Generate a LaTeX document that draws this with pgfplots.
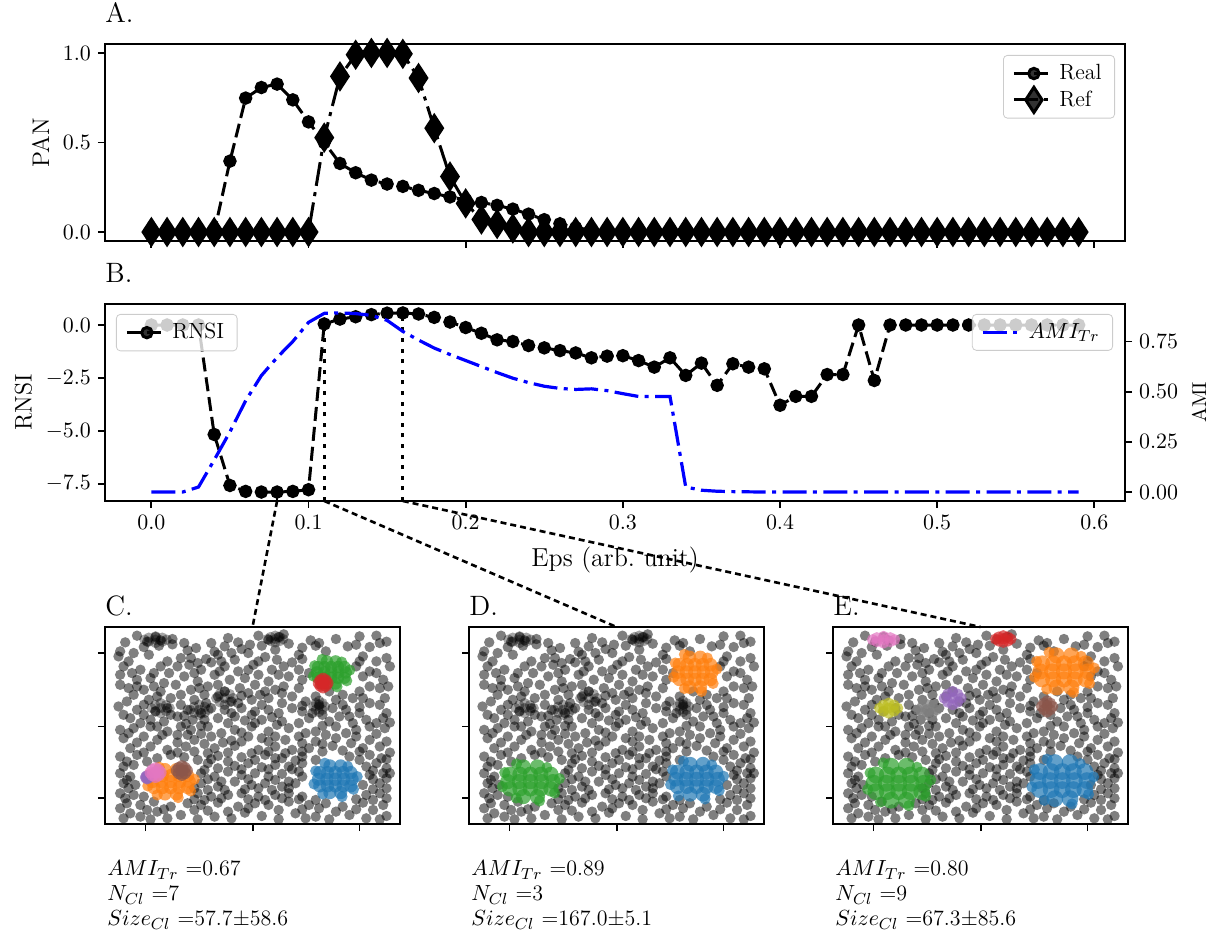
\documentclass[border=0pt]{standalone}
\usepackage{pgfplots}
\usepackage{pgfplotstable}
\pgfplotsset{compat=1.18}

\definecolor{tabblue}{HTML}{1F77B4}
\definecolor{taborange}{HTML}{FF7F0E}
\definecolor{tabgreen}{HTML}{2CA02C}
\definecolor{tabred}{HTML}{D62728}
\definecolor{tabpurple}{HTML}{9467BD}
\definecolor{tabbrown}{HTML}{8C564B}
\definecolor{tabpink}{HTML}{E377C2}
\definecolor{tabgray}{HTML}{7F7F7F}
\definecolor{tabolive}{HTML}{BCBD22}

\newcommand\tickfont{\fontsize{11}{13}\selectfont}
\newcommand\labfont{\fontsize{12}{14}\selectfont}
\newcommand\xlabfont{\fontsize{13}{15}\selectfont}
\newcommand\titfont{\fontsize{14}{16}\selectfont}
\newcommand\legfont{\fontsize{11}{13}\selectfont}
\newcommand\txtfont{\fontsize{11}{13}\selectfont}

% eps sweep: PAN of real and reference clustering, RNSI and AMI
\pgfplotstableread{
eps   real   ref    rnsi   ami
0.00  0.000  0.000  0.00   0.000
0.01  0.000  0.000  0.00   0.000
0.02  0.000  0.000  0.00   0.000
0.03  0.000  0.000  0.00   0.025
0.04  0.000  0.000  -5.17  0.160
0.05  0.396  0.000  -7.58  0.300
0.06  0.748  0.000  -7.86  0.455
0.07  0.807  0.000  -7.89  0.580
0.08  0.826  0.000  -7.89  0.670
0.09  0.738  0.000  -7.86  0.750
0.10  0.615  0.000  -7.78  0.845
0.11  0.500  0.527  0.05   0.890
0.12  0.383  0.869  0.28   0.892
0.13  0.331  0.990  0.39   0.889
0.14  0.290  1.000  0.49   0.880
0.15  0.268  1.000  0.56   0.855
0.16  0.255  0.995  0.57   0.800
0.17  0.233  0.860  0.52   0.757
0.18  0.215  0.580  0.36   0.717
0.19  0.196  0.310  0.14   0.685
0.20  0.180  0.160  -0.12  0.655
0.21  0.165  0.070  -0.39  0.625
0.22  0.149  0.045  -0.70  0.595
0.23  0.128  0.020  -0.78  0.567
0.24  0.100  0.000  -0.97  0.545
0.25  0.069  0.000  -1.08  0.527
0.26  0.046  0.000  -1.21  0.516
0.27  0.024  0.000  -1.32  0.511
0.28  0.012  0.000  -1.55  0.514
0.29  0.005  0.000  -1.47  0.505
0.30  0.000  0.000  -1.45  0.490
0.31  0.000  0.000  -1.68  0.476
0.32  0.000  0.000  -1.99  0.476
0.33  0.000  0.000  -1.55  0.476
0.34  0.000  0.000  -2.38  0.025
0.35  0.000  0.000  -1.80  0.009
0.36  0.000  0.000  -2.85  0.004
0.37  0.000  0.000  -1.83  0.002
0.38  0.000  0.000  -1.99  0.001
0.39  0.000  0.000  -2.07  0.000
0.40  0.000  0.000  -3.79  0.000
0.41  0.000  0.000  -3.37  0.000
0.42  0.000  0.000  -3.37  0.000
0.43  0.000  0.000  -2.34  0.000
0.44  0.000  0.000  -2.34  0.000
0.45  0.000  0.000  0.00   0.000
0.46  0.000  0.000  -2.62  0.000
0.47  0.000  0.000  0.00   0.000
0.48  0.000  0.000  0.00   0.000
0.49  0.000  0.000  0.00   0.000
0.50  0.000  0.000  0.00   0.000
0.51  0.000  0.000  0.00   0.000
0.52  0.000  0.000  0.00   0.000
0.53  0.000  0.000  0.00   0.000
0.54  0.000  0.000  0.00   0.000
0.55  0.000  0.000  0.00   0.000
0.56  0.000  0.000  0.00   0.000
0.57  0.000  0.000  0.00   0.000
0.58  0.000  0.000  0.00   0.000
0.59  0.000  0.000  0.00   0.000
}\curves

% background (noise) points of the 2-D test set, field coordinates
\pgfplotstableread[row sep=\\]{
x y\\
110 48\\ 165 52\\ 180 62\\ 250 70\\ 285 85\\ 380 55\\ 410 68\\ 470 48\\ 500 60\\ 530 52\\ 545 44\\ 625 62\\ 650 70\\ 700 58\\ 770 50\\ 820 48\\
75 68\\ 140 66\\ 215 58\\ 330 70\\ 445 75\\ 560 72\\ 600 84\\ 735 80\\ 850 66\\
60 95\\ 130 82\\ 175 78\\ 215 74\\ 260 92\\ 340 96\\ 370 80\\ 390 100\\ 420 88\\ 480 78\\ 520 90\\ 590 105\\ 640 78\\ 670 95\\ 760 75\\ 800 82\\ 830 70\\
55 110\\ 100 100\\ 145 105\\ 200 125\\ 240 115\\ 290 130\\ 315 118\\ 350 105\\ 400 120\\ 440 100\\ 490 112\\ 525 120\\ 600 118\\ 780 110\\ 820 125\\ 850 115\\
85 125\\ 180 140\\ 270 115\\ 360 125\\ 470 125\\ 570 128\\ 770 125\\ 860 140\\
70 140\\ 120 150\\ 160 160\\ 230 140\\ 265 135\\ 300 150\\ 330 128\\ 370 140\\ 410 155\\ 455 135\\ 510 150\\ 545 140\\ 590 150\\ 760 140\\ 800 155\\
95 160\\ 205 160\\ 280 160\\ 355 155\\ 440 150\\ 530 165\\ 620 160\\ 820 160\\
60 165\\ 110 180\\ 150 175\\ 190 190\\ 250 170\\ 290 185\\ 340 165\\ 385 180\\ 430 175\\ 470 165\\ 500 185\\ 560 170\\ 600 180\\ 780 170\\ 840 180\\
60 195\\ 110 200\\ 160 200\\ 225 195\\ 295 205\\ 350 195\\ 440 220\\ 490 215\\ 545 200\\ 590 205\\ 800 200\\ 855 200\\
85 205\\ 130 210\\ 180 215\\ 270 210\\ 320 200\\ 370 215\\ 415 205\\ 460 195\\ 520 210\\ 640 230\\ 720 225\\ 770 215\\ 830 205\\
100 225\\ 170 230\\ 240 225\\ 310 225\\ 420 228\\ 475 225\\ 540 220\\ 680 215\\ 780 235\\ 845 235\\
80 245\\ 145 240\\ 210 235\\ 280 240\\ 350 230\\ 390 245\\ 450 240\\ 500 235\\ 570 230\\ 610 245\\ 650 255\\ 700 240\\ 750 235\\ 800 250\\
130 255\\ 240 255\\ 315 250\\ 410 250\\ 480 255\\ 540 250\\ 600 258\\ 720 255\\ 830 255\\
55 260\\ 110 270\\ 165 275\\ 200 265\\ 260 270\\ 300 280\\ 330 265\\ 370 270\\ 420 265\\ 460 275\\ 500 270\\ 570 265\\ 630 280\\ 690 265\\ 730 270\\ 770 262\\ 850 280\\
70 285\\ 130 285\\ 210 285\\ 250 288\\ 390 280\\ 450 285\\ 530 280\\ 600 275\\ 660 285\\ 710 290\\ 770 280\\ 840 295\\
90 295\\ 150 300\\ 190 305\\ 230 290\\ 275 300\\ 310 300\\ 350 295\\ 400 290\\ 430 302\\ 480 300\\ 510 292\\ 540 305\\ 620 295\\ 680 305\\ 740 290\\ 790 300\\ 820 310\\
120 310\\ 170 320\\ 255 312\\ 300 318\\ 380 310\\ 460 310\\ 525 315\\ 590 310\\ 660 318\\ 750 310\\ 800 320\\ 860 308\\
60 330\\ 100 325\\ 150 320\\ 200 335\\ 240 320\\ 270 330\\ 320 320\\ 360 340\\ 400 330\\ 450 320\\ 500 335\\ 560 325\\ 640 335\\ 700 320\\ 730 340\\ 760 330\\ 845 325\\
85 340\\ 185 345\\ 260 345\\ 300 342\\ 420 338\\ 520 350\\ 610 340\\ 670 345\\ 820 342\\
70 355\\ 130 350\\ 170 360\\ 230 345\\ 280 360\\ 330 350\\ 390 362\\ 440 350\\ 480 355\\ 550 360\\ 590 350\\ 640 365\\ 700 355\\ 760 350\\ 800 360\\
110 368\\ 230 368\\ 310 372\\ 365 368\\ 420 365\\ 500 365\\ 600 370\\ 660 372\\ 745 370\\ 850 365\\
90 385\\ 150 380\\ 200 390\\ 255 380\\ 280 395\\ 340 385\\ 400 378\\ 470 390\\ 520 380\\ 570 390\\ 620 385\\ 690 378\\ 720 392\\ 780 385\\ 830 380\\
130 398\\ 230 398\\ 320 400\\ 380 398\\ 450 400\\ 500 395\\ 550 400\\ 600 395\\ 660 395\\ 770 395\\ 860 398\\
60 410\\ 110 405\\ 170 415\\ 210 405\\ 250 412\\ 290 420\\ 350 408\\ 420 412\\ 490 405\\ 540 415\\ 600 410\\ 640 420\\ 740 410\\ 800 405\\ 835 415\\
80 425\\ 140 425\\ 330 418\\ 380 425\\ 460 420\\ 520 415\\ 580 422\\ 770 420\\ 850 418\\
100 435\\ 320 430\\ 350 445\\ 400 438\\ 440 430\\ 480 442\\ 520 435\\ 560 440\\ 600 430\\ 790 440\\ 820 430\\ 850 445\\
70 440\\ 310 450\\ 420 448\\ 500 448\\ 570 448\\ 810 452\\ 860 460\\
60 460\\ 90 470\\ 300 460\\ 340 470\\ 380 455\\ 420 465\\ 460 460\\ 500 470\\ 540 462\\ 590 455\\ 800 465\\ 840 460\\
80 480\\ 320 478\\ 360 485\\ 440 478\\ 520 480\\ 560 485\\ 600 470\\ 810 478\\ 850 475\\
70 490\\ 105 495\\ 300 490\\ 350 500\\ 400 485\\ 450 495\\ 490 490\\ 540 500\\ 580 490\\ 780 495\\ 830 490\\
85 505\\ 280 505\\ 320 510\\ 370 510\\ 430 508\\ 470 505\\ 510 510\\ 560 505\\ 810 508\\ 850 505\\
60 520\\ 100 525\\ 130 530\\ 290 520\\ 330 530\\ 380 525\\ 420 520\\ 470 530\\ 520 525\\ 560 520\\ 600 530\\ 790 525\\ 830 520\\
75 535\\ 280 538\\ 310 540\\ 360 535\\ 440 538\\ 490 540\\ 540 535\\ 590 538\\ 640 540\\ 760 538\\ 810 540\\ 850 535\\
80 550\\ 120 555\\ 160 545\\ 210 560\\ 260 550\\ 300 555\\ 350 548\\ 410 560\\ 460 550\\ 500 555\\ 560 545\\ 620 555\\ 670 550\\ 720 560\\ 780 548\\ 840 555\\
60 565\\ 140 570\\ 190 568\\ 280 570\\ 320 572\\ 380 575\\ 440 565\\ 530 570\\ 600 568\\ 650 565\\ 760 568\\ 810 570\\
90 580\\ 120 590\\ 170 575\\ 240 585\\ 340 590\\ 430 578\\ 480 588\\ 580 580\\ 640 590\\ 700 575\\ 740 585\\ 850 588\\
70 595\\ 150 598\\ 200 595\\ 290 598\\ 390 595\\ 530 598\\ 610 595\\ 680 598\\ 790 595\\ 830 598\\
}\noise

% small dense groups (separate clusters only at the largest eps)
\pgfplotstableread[row sep=\\]{x y\\ 165 60\\ 145 54\\ 185 54\\ 145 66\\ 185 66\\ 198 60\\ 132 60\\ 165 70\\ 165 50\\}\gPink
\pgfplotstableread[row sep=\\]{x y\\ 520 58\\ 506 52\\ 534 52\\ 506 64\\ 534 64\\ 543 58\\ 497 58\\ 520 68\\ 520 48\\}\gRed
\pgfplotstableread[row sep=\\]{x y\\ 370 235\\ 355 223\\ 385 223\\ 355 247\\ 385 247\\ 395 235\\ 345 235\\ 370 255\\ 370 215\\}\gPurple
\pgfplotstableread[row sep=\\]{x y\\ 295 270\\ 279 261\\ 311 261\\ 279 279\\ 311 279\\ 322 270\\ 268 270\\ 295 285\\ 295 255\\}\gGray
\pgfplotstableread[row sep=\\]{x y\\ 180 265\\ 164 256\\ 196 256\\ 164 274\\ 196 274\\ 207 265\\ 153 265\\ 180 280\\ 180 250\\}\gOlive
\pgfplotstableread[row sep=\\]{x y\\ 650 260\\ 640 250\\ 660 250\\ 640 270\\ 660 270\\ 667 260\\ 633 260\\ 650 277\\ 650 243\\}\gBrown

\pgfplotsset{
  base/.style={anchor=south west, scale only axis,
    axis line style={line width=1.2pt},
    tick align=outside, major tick length=3.5pt,
    every tick/.style={line width=0.9pt, black},
    scaled ticks=false,
    tick label style={font=\tickfont},
    label style={font=\labfont},
    title style={at={(0,1)}, anchor=base west, font=\titfont, inner sep=0pt, yshift=4.5pt},
    legend style={font=\legfont, draw=black!20, rounded corners=2pt, fill=white,
      fill opacity=0.8, text opacity=1, inner xsep=4.5pt, inner ysep=2.5pt,
      cells={anchor=west}},
    legend image code/.code={\draw[mark repeat=2, mark phase=2, #1]
      plot coordinates {(0pt,0pt) (10pt,0pt) (20pt,0pt)};}},
  eps axis/.style={base, width=510pt, height=98.5pt, xmin=-0.0295, xmax=0.6195,
    xtick={0,0.1,0.2,0.3,0.4,0.5,0.6}},
  field/.style={base, width=147.5pt, height=98.5pt, tick pos=left,
    title style={yshift=-4.5pt},
    xmin=15, xmax=890, ymin=22, ymax=612, y dir=reverse,
    xtick={135,455,770}, ytick={100,320,535}, xticklabels={}, yticklabels={}},
  realline/.style={black, line width=1.5pt, dash pattern=on 7pt off 3pt,
    mark=*, mark size=2.6pt, mark options={solid, fill=black}},
  refline/.style={black, line width=1.5pt, dash pattern=on 12pt off 3.2pt on 2pt off 3.2pt,
    mark=diamond*, mark size=6.3pt, mark options={solid, fill=black, xscale=0.87}},
  amiline/.style={blue, line width=1.6pt, dash pattern=on 12pt off 3.2pt on 2pt off 3.2pt},
  vline/.style={black, line width=1.4pt, dash pattern=on 2pt off 3.3pt, forget plot},
  noise/.style={only marks, mark=*, mark size=2.6pt,
    mark options={fill=black, draw opacity=0, fill opacity=#1}},
  noise/.default=0.5,
  blob/.style={only marks, mark=*,
    mark options={fill=#1, draw opacity=0, fill opacity=0.7}},
}
\tikzset{conn/.style={black, line width=1.3pt, dash pattern=on 3pt off 2pt}}

\begin{document}
\begin{tikzpicture}
\useasboundingbox (0,0) rectangle (608.5pt,471.5pt);

% ---------- A: PAN ----------
\begin{axis}[eps axis, at={(52.5pt,351pt)}, tick pos=left,
  ymin=-0.05, ymax=1.05, ytick={0,0.5,1}, xticklabels={},
  yticklabel style={/pgf/number format/fixed, /pgf/number format/fixed zerofill, /pgf/number format/precision=1},
  ylabel={PAN}, title={A.},
  legend style={at={(1,1)}, anchor=north east, xshift=-5pt, yshift=-5.5pt}]
\addplot[realline] table[x=eps, y=real] {\curves};
\addlegendentry{Real}
\addplot[refline] table[x=eps, y=ref] {\curves};
\addlegendentry{Ref}
\end{axis}

% ---------- B: RNSI (left) ----------
\begin{axis}[eps axis, at={(52.5pt,221pt)}, tick pos=left,
  ymin=-8.313, ymax=0.993, ytick={-7.5,-5,-2.5,0},
  xticklabel style={/pgf/number format/fixed, /pgf/number format/fixed zerofill, /pgf/number format/precision=1},
  yticklabel style={/pgf/number format/fixed, /pgf/number format/fixed zerofill, /pgf/number format/precision=1},
  xlabel={Eps (arb.\ unit)}, xlabel style={font=\xlabfont, yshift=-2pt},
  ylabel={RNSI}, title={B.},
  legend style={at={(0,1)}, anchor=north west, xshift=5.5pt, yshift=-5pt}]
\addplot[realline] table[x=eps, y=rnsi] {\curves};
\addlegendentry{RNSI}
\addplot[vline] coordinates {(0.08,-8.313) (0.08,-7.89)};
\addplot[vline] coordinates {(0.11,-8.313) (0.11,0.05)};
\addplot[vline] coordinates {(0.16,-8.313) (0.16,0.57)};
\coordinate (sC) at (axis cs:0.08,-8.313);
\coordinate (sD) at (axis cs:0.11,-8.313);
\coordinate (sE) at (axis cs:0.16,-8.313);
\end{axis}

% ---------- B: AMI (right) ----------
\begin{axis}[eps axis, at={(52.5pt,221pt)},
  axis x line=none, axis y line*=right, ylabel near ticks,
  ymin=-0.0446, ymax=0.9366, ytick={0,0.25,0.5,0.75},
  yticklabel style={/pgf/number format/fixed, /pgf/number format/fixed zerofill, /pgf/number format/precision=2},
  ylabel={AMI},
  legend style={at={(1,1)}, anchor=north east, xshift=-6pt, yshift=-5pt}]
\addplot[amiline] table[x=eps, y=ami] {\curves};
\addlegendentry{$AMI_{Tr}$}
\end{axis}

% ---------- C: eps = 0.08 ----------
\begin{axis}[field, at={(52.5pt,59.5pt)}, title={C.}, name=pC]
\addplot[noise] table {\noise};
\addplot[noise=0.35] table {\gPink};
\addplot[noise=0.35] table {\gRed};
\addplot[noise=0.35] table {\gPurple};
\addplot[noise=0.35] table {\gGray};
\addplot[noise=0.35] table {\gOlive};
\addplot[noise=0.35] table {\gBrown};
% blue
\addplot[blob=tabblue, mark size=3.3pt] coordinates {(682,438) (714,438) (652,458) (675,458) (698,458) (721,458) (744,458) (648,478) (673,478) (698,478) (723,478) (748,478) (652,498) (675,498) (698,498) (721,498) (744,498) (682,518) (714,518)};
\addplot[blob=tabblue, mark size=2.8pt] coordinates {(763,470) (635,492) (718,530) (667,430) (735,440) (661,522) (752,508) (640,453)};
% orange
\addplot[blob=taborange, mark size=3.3pt] coordinates {(193,449) (227,449) (160,467) (185,467) (210,467) (235,467) (260,467) (155,485) (183,485) (210,485) (237,485) (265,485) (160,503) (185,503) (210,503) (235,503) (260,503) (193,522) (227,522)};
\addplot[blob=taborange, mark size=2.8pt] coordinates {(280,478) (142,498) (232,533) (176,442) (250,451) (170,525) (269,513) (147,463)};
% green
\addplot[blob=tabgreen, mark size=3.1pt] coordinates {(673,125) (699,125) (647,142) (666,142) (686,142) (706,142) (725,142) (643,158) (665,158) (686,158) (707,158) (729,158) (647,174) (666,174) (686,174) (706,174) (725,174) (673,191) (699,191)};
\addplot[blob=tabgreen, mark size=2.8pt] coordinates {(741,151) (633,169) (703,201) (659,119) (717,127) (655,194) (732,183) (637,138)};
% red, purple, brown, pink
\addplot[blob=tabred, mark size=3.0pt] coordinates {(662,190) (654,182) (670,182) (654,198) (670,198) (675,190) (649,190) (662,203) (662,177)};
\addplot[blob=tabpurple, mark size=2.8pt] coordinates {(140,472) (137,469) (143,469) (137,475) (143,475) (145,472) (135,472) (140,477) (140,467)};
\addplot[blob=tabbrown, mark size=3.0pt] coordinates {(243,452) (234,444) (252,444) (234,460) (252,460) (258,452) (228,452) (243,465) (243,439)};
\addplot[blob=tabpink, mark size=3.0pt] coordinates {(165,458) (156,450) (174,450) (156,466) (174,466) (180,458) (150,458) (165,471) (165,445)};
\end{axis}

% ---------- D: eps = 0.11 ----------
\begin{axis}[field, at={(234.5pt,59.5pt)}, title={D.}, name=pD]
\addplot[noise] table {\noise};
\addplot[noise=0.35] table {\gPink};
\addplot[noise=0.35] table {\gRed};
\addplot[noise=0.35] table {\gPurple};
\addplot[noise=0.35] table {\gGray};
\addplot[noise=0.35] table {\gOlive};
\addplot[noise=0.35] table {\gBrown};
\addplot[blob=tabblue, mark size=3.7pt] coordinates {(671,433) (709,433) (633,456) (661,456) (690,456) (719,456) (747,456) (628,478) (659,478) (690,478) (721,478) (752,478) (633,500) (661,500) (690,500) (719,500) (747,500) (671,523) (709,523)};
\addplot[blob=tabblue, mark size=2.8pt] coordinates {(770,469) (613,494) (715,537) (651,424) (735,435) (636,528) (757,512) (619,450)};
\addplot[blob=taborange, mark size=3.4pt] coordinates {(669,113) (701,113) (639,135) (662,135) (685,135) (708,135) (731,135) (635,157) (660,157) (685,157) (710,157) (735,157) (639,179) (662,179) (685,179) (708,179) (731,179) (669,202) (701,202)};
\addplot[blob=taborange, mark size=2.8pt] coordinates {(750,148) (622,172) (705,215) (654,104) (722,115) (654,206) (739,191) (627,130)};
\addplot[blob=tabgreen, mark size=3.8pt] coordinates {(176,441) (218,441) (136,463) (166,463) (197,463) (228,463) (258,463) (130,485) (164,485) (197,485) (230,485) (264,485) (136,507) (166,507) (197,507) (228,507) (258,507) (176,530) (218,530)};
\addplot[blob=tabgreen, mark size=2.8pt] coordinates {(283,476) (114,500) (224,543) (156,432) (246,443) (155,534) (269,519) (121,458)};
\end{axis}

% ---------- E: eps = 0.16 ----------
\begin{axis}[field, at={(416.5pt,59.5pt)}, title={E.}, name=pE]
\addplot[noise] table {\noise};
\addplot[blob=tabblue, mark size=4.2pt] coordinates {(673,428) (718,428) (628,455) (662,455) (695,455) (728,455) (762,455) (623,482) (659,482) (695,482) (731,482) (768,482) (628,509) (662,509) (695,509) (728,509) (762,509) (673,536) (718,536)};
\addplot[blob=tabblue, mark size=2.8pt] coordinates {(788,471) (605,501) (724,552) (650,418) (748,431) (642,541) (773,523) (612,449)};
\addplot[blob=taborange, mark size=4.0pt] coordinates {(678,107) (722,107) (635,131) (668,131) (700,131) (732,131) (765,131) (630,155) (665,155) (700,155) (735,155) (770,155) (635,179) (668,179) (700,179) (732,179) (765,179) (678,203) (722,203)};
\addplot[blob=taborange, mark size=2.8pt] coordinates {(790,145) (613,172) (728,218) (656,98) (751,110) (649,208) (776,191) (619,125)};
\addplot[blob=tabgreen, mark size=4.2pt] coordinates {(187,439) (233,439) (142,465) (176,465) (210,465) (244,465) (278,465) (136,490) (173,490) (210,490) (247,490) (284,490) (142,515) (176,515) (210,515) (244,515) (278,515) (187,541) (233,541)};
\addplot[blob=tabgreen, mark size=2.8pt] coordinates {(305,480) (118,508) (240,557) (164,429) (264,442) (156,546) (290,529) (125,459)};
\addplot[blob=tabred, mark size=2.8pt] table {\gRed};
\addplot[blob=tabpurple, mark size=2.8pt] table {\gPurple};
\addplot[blob=tabbrown, mark size=2.8pt] table {\gBrown};
\addplot[blob=tabpink, mark size=2.8pt] table {\gPink};
\addplot[blob=tabgray, mark size=2.8pt] table {\gGray};
\addplot[blob=tabolive, mark size=2.8pt] table {\gOlive};
\end{axis}

% links from the eps sweep to the three snapshots
\draw[conn] (sC) -- (pC.north);
\draw[conn] (sD) -- (pD.north);
\draw[conn] (sE) -- (pE.north);

% cluster statistics
\begin{scope}[every node/.style={anchor=base west, inner sep=0pt, font=\txtfont}]
\node at (53.5pt,33.5pt) {$AMI_{Tr}$ =0.67};
\node at (53.5pt,21pt) {$N_{Cl}$ =7};
\node at (53.5pt,8.5pt) {$Size_{Cl}$ =57.7$\pm$58.6};
\node at (235.5pt,33.5pt) {$AMI_{Tr}$ =0.89};
\node at (235.5pt,21pt) {$N_{Cl}$ =3};
\node at (235.5pt,8.5pt) {$Size_{Cl}$ =167.0$\pm$5.1};
\node at (417.5pt,33.5pt) {$AMI_{Tr}$ =0.80};
\node at (417.5pt,21pt) {$N_{Cl}$ =9};
\node at (417.5pt,8.5pt) {$Size_{Cl}$ =67.3$\pm$85.6};
\end{scope}
\end{tikzpicture}
\end{document}
